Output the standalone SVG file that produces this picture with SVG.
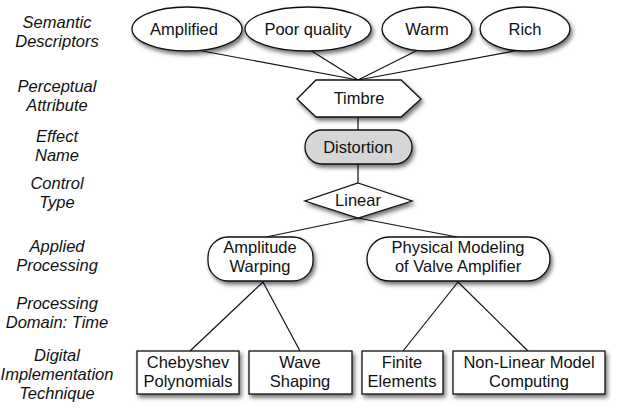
<svg xmlns="http://www.w3.org/2000/svg" width="617" height="410" viewBox="0 0 617 410">
<defs>
<filter id="sh" x="-20%" y="-30%" width="150%" height="170%">
<feDropShadow dx="2" dy="3" stdDeviation="2" flood-color="#000" flood-opacity="0.55"/>
</filter>
</defs>
<style>
.n{fill:#fff;stroke:#111;stroke-width:1.3;filter:url(#sh)}
.g{fill:#d6d6d6}
.t{font-family:"Liberation Sans",Arial,sans-serif;font-size:16.5px;fill:#111;text-anchor:middle}
.l{font-family:"Liberation Sans",Arial,sans-serif;font-size:16.5px;font-style:italic;fill:#111;text-anchor:middle}
.c{stroke:#111;stroke-width:1.2;fill:none}
</style>
<rect width="617" height="410" fill="#fff"/>
<g id="labels">
<text class="l" x="57" y="28">Semantic</text>
<text class="l" x="57" y="47">Descriptors</text>
<text class="l" x="57" y="92">Perceptual</text>
<text class="l" x="57" y="111">Attribute</text>
<text class="l" x="57" y="142">Effect</text>
<text class="l" x="57" y="161">Name</text>
<text class="l" x="57" y="189">Control</text>
<text class="l" x="57" y="208">Type</text>
<text class="l" x="57" y="252">Applied</text>
<text class="l" x="57" y="271">Processing</text>
<text class="l" x="57" y="309">Processing</text>
<text class="l" x="57" y="328">Domain: Time</text>
<text class="l" x="57" y="361">Digital</text>
<text class="l" x="57" y="380">Implementation</text>
<text class="l" x="57" y="399">Technique</text>
</g>
<g id="connectors">
<line class="c" x1="197" y1="50" x2="358" y2="80"/>
<line class="c" x1="310" y1="50" x2="358" y2="80"/>
<line class="c" x1="418" y1="50" x2="358" y2="80"/>
<line class="c" x1="520" y1="50" x2="358" y2="80"/>
<line class="c" x1="358" y1="117" x2="358" y2="130"/>
<line class="c" x1="358" y1="164" x2="358" y2="183"/>
<line class="c" x1="358" y1="218" x2="266" y2="237"/>
<line class="c" x1="358" y1="218" x2="457" y2="237"/>
<line class="c" x1="263" y1="282" x2="190" y2="351"/>
<line class="c" x1="263" y1="282" x2="300" y2="351"/>
<line class="c" x1="458" y1="282" x2="403" y2="351"/>
<line class="c" x1="458" y1="282" x2="528" y2="351"/>
</g>
<g id="amplified"><ellipse class="n" cx="187" cy="29" rx="55" ry="22"/><text class="t" x="184" y="35">Amplified</text></g>
<g id="poor-quality"><ellipse class="n" cx="308" cy="29" rx="63" ry="22"/><text class="t" x="308" y="35">Poor quality</text></g>
<g id="warm"><ellipse class="n" cx="427" cy="29" rx="45" ry="22"/><text class="t" x="427" y="35">Warm</text></g>
<g id="rich"><ellipse class="n" cx="525" cy="29" rx="45" ry="22"/><text class="t" x="525" y="35">Rich</text></g>
<g id="timbre"><polygon class="n" points="297,99 316,80 401,80 421,99 401,117 316,117"/><text class="t" x="359" y="104">Timbre</text></g>
<g id="distortion"><rect class="n g" x="305" y="130" width="107" height="34" rx="17"/><text class="t" x="358" y="153">Distortion</text></g>
<g id="linear"><polygon class="n" points="358,183 412,201 358,218 305,201"/><text class="t" x="358" y="206">Linear</text></g>
<g id="amplitude-warping"><rect class="n" x="208" y="237" width="105" height="44" rx="20"/><text class="t" x="260" y="253">Amplitude</text><text class="t" x="260" y="272">Warping</text></g>
<g id="physical-modeling"><rect class="n" x="367" y="237" width="183" height="44" rx="22"/><text class="t" x="458" y="253">Physical Modeling</text><text class="t" x="458" y="272">of Valve Amplifier</text></g>
<g id="chebyshev"><rect class="n" x="137" y="351" width="102" height="43"/><text class="t" x="188" y="368">Chebyshev</text><text class="t" x="188" y="387">Polynomials</text></g>
<g id="wave-shaping"><rect class="n" x="249" y="351" width="103" height="43"/><text class="t" x="300" y="368">Wave</text><text class="t" x="300" y="387">Shaping</text></g>
<g id="finite-elements"><rect class="n" x="362" y="351" width="81" height="43"/><text class="t" x="402" y="368">Finite</text><text class="t" x="402" y="387">Elements</text></g>
<g id="non-linear"><rect class="n" x="453" y="351" width="152" height="43"/><text class="t" x="529" y="368">Non-Linear Model</text><text class="t" x="529" y="387">Computing</text></g>
</svg>
